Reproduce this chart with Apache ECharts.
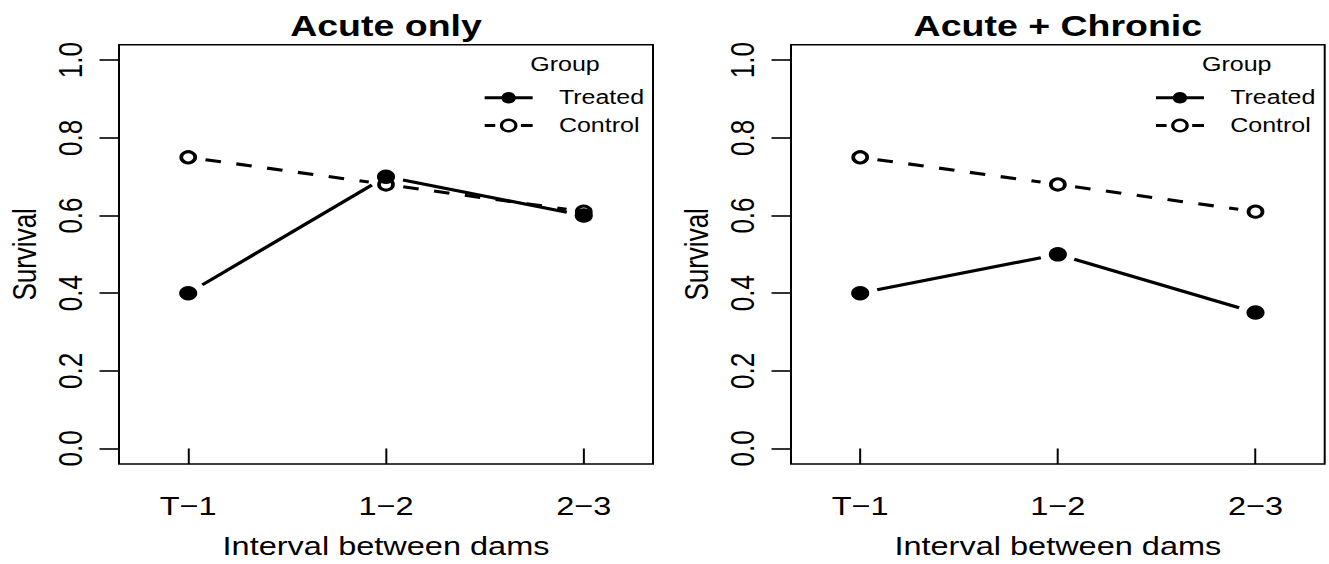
<!DOCTYPE html>
<html>
<head>
<meta charset="utf-8">
<script src="https://cdn.jsdelivr.net/npm/echarts@6/dist/echarts.min.js"></script>
<style>
html,body{margin:0;padding:0;background:#fff;overflow:hidden}
#wrap{width:1329px;height:564px;overflow:hidden;background:#fff}
#chart{width:1063px;height:564px;transform-origin:0 0}
</style>
</head>
<body>
<div id="wrap"><div id="chart"></div></div>
<script>
// ---- data ----
const categories = ['T\u22121', '1\u22122', '2\u22123'];
const xPositions = [1, 2, 3];
const yTicks = [0, 0.2, 0.4, 0.6, 0.8, 1.0];
const acuteTreated = [0.40, 0.70, 0.60];
const acuteControl = [0.75, 0.68, 0.61];
const chronicTreated = [0.40, 0.50, 0.35];
const chronicControl = [0.75, 0.68, 0.61];
const panelTitles = ['Acute only', 'Acute + Chronic'];
const groupNames = ['Treated', 'Control'];

// ---- layout (the picture is horizontally stretched) ----
const S = 1329 / 1063;
document.getElementById('chart').style.transform = 'scaleX(' + S + ')';
const px = v => v / S;
const FONT = 'Liberation Sans, Arial, Helvetica, sans-serif';
const AXIS_FS = 26;
const GRID_TOP = 44.7, GRID_H = 425;
const panels = [
  { left: px(119), width: px(653 - 119), legendX: px(482.7) },
  { left: px(791), width: px(1324.7 - 791), legendX: px(1154) }
];
const GAP = 14;
const DASH = [12.5, 12.5];
const LEGEND_DASH = [8.5, 20.5, 9.4, 100];
const LW = 3.1;

function pts(ys) { return xPositions.map((x, i) => [x, ys[i]]); }
function segs(ys) {
  const out = [];
  for (let i = 0; i < ys.length - 1; i++) out.push([xPositions[i], ys[i], xPositions[i + 1], ys[i + 1]]);
  return out;
}
function segRenderer(dash) {
  return function (params, api) {
    const a = api.coord([api.value(0), api.value(1)]);
    const b = api.coord([api.value(2), api.value(3)]);
    const dx = b[0] - a[0], dy = b[1] - a[1];
    const len = Math.sqrt(dx * dx + dy * dy);
    const ux = dx / len, uy = dy / len;
    return {
      type: 'line',
      shape: { x1: a[0] + ux * GAP, y1: a[1] + uy * GAP, x2: b[0] - ux * GAP, y2: b[1] - uy * GAP },
      style: { stroke: '#000', lineWidth: LW, lineDash: dash, lineCap: 'butt' }
    };
  };
}

const grids = [], xAxes = [], yAxes = [], series = [], legends = [], graphics = [];
const panelData = [[acuteTreated, acuteControl], [chronicTreated, chronicControl]];

panels.forEach((p, k) => {
  grids.push({ left: p.left, top: GRID_TOP, width: p.width, height: GRID_H, show: true,
    borderColor: '#000', borderWidth: 1.6, backgroundColor: 'transparent', containLabel: false });
  xAxes.push({
    type: 'value', gridIndex: k, min: 0.65, max: 3.35,
    name: 'Interval between dams', nameLocation: 'middle', nameGap: 69,
    nameTextStyle: { fontSize: AXIS_FS, fontFamily: FONT, color: '#000' },
    axisLine: { show: false },
    axisTick: { show: true, length: 15.6, customValues: xPositions, lineStyle: { color: '#000', width: 1.6 } },
    axisLabel: { show: true, customValues: xPositions, margin: 29, fontSize: AXIS_FS, fontFamily: FONT, color: '#000',
      formatter: v => categories[xPositions.indexOf(Math.round(v))] },
    splitLine: { show: false }
  });
  yAxes.push({
    type: 'value', gridIndex: k, min: -0.04, max: 1.04,
    name: 'Survival', nameLocation: 'middle', nameGap: 63,
    nameTextStyle: { fontSize: AXIS_FS, fontFamily: FONT, color: '#000' },
    axisLine: { show: false },
    axisTick: { show: true, length: 15.6, customValues: yTicks, lineStyle: { color: '#000', width: 1.6 } },
    axisLabel: { show: true, customValues: yTicks, rotate: 90, margin: 26, fontSize: AXIS_FS, fontFamily: FONT, color: '#000',
      formatter: v => v.toFixed(1) },
    splitLine: { show: false }
  });
  const [tr, ct] = panelData[k];
  series.push({
    type: 'custom', name: 'Treated segments', xAxisIndex: k, yAxisIndex: k, z: 2, silent: true,
    dimensions: ['x1', 'y1', 'x2', 'y2'], encode: { x: [0, 2], y: [1, 3] },
    renderItem: segRenderer(null), data: segs(tr)
  });
  series.push({
    type: 'line', name: groupNames[0], xAxisIndex: k, yAxisIndex: k, z: 3, silent: true,
    data: pts(tr), symbol: 'circle', symbolSize: 14.5, showSymbol: true,
    itemStyle: { color: '#000' }, lineStyle: { opacity: 0, width: 0.01 }
  });
  series.push({
    type: 'custom', name: 'Control segments', xAxisIndex: k, yAxisIndex: k, z: 4, silent: true,
    dimensions: ['x1', 'y1', 'x2', 'y2'], encode: { x: [0, 2], y: [1, 3] },
    renderItem: segRenderer(DASH), data: segs(ct)
  });
  series.push({
    type: 'line', name: groupNames[1], xAxisIndex: k, yAxisIndex: k, z: 5, silent: true,
    data: pts(ct), symbol: 'circle', symbolSize: 11.2, showSymbol: true,
    itemStyle: { color: 'rgba(0,0,0,0)', borderColor: '#000', borderWidth: 3 },
    lineStyle: { opacity: 0, width: 0.01 }
  });
  legends.push({
    orient: 'vertical', left: p.legendX, top: 87.8, padding: 0, itemWidth: px(48), itemHeight: 14.5, itemGap: 7.7,
    selectedMode: false,
    textStyle: { fontSize: 20, fontFamily: FONT, color: '#000', padding: [0, 0, 0, 16] },
    data: [
      { name: groupNames[0], itemStyle: { color: '#000', borderWidth: 0 },
        lineStyle: { color: '#000', width: LW, type: 'solid', opacity: 1 } },
      { name: groupNames[1], itemStyle: { color: 'rgba(0,0,0,0)', borderColor: '#000', borderWidth: 2.5 },
        lineStyle: { color: '#000', width: LW, type: LEGEND_DASH, opacity: 1 } }
    ]
  });
  const cx = p.left + p.width / 2;
  graphics.push({ type: 'text', x: cx, y: 25, silent: true,
    style: { text: panelTitles[k], fontSize: 30, fontWeight: 'bold', fontFamily: FONT, fill: '#000',
      align: 'center', verticalAlign: 'middle', textAlign: 'center', textVerticalAlign: 'middle' } });
  graphics.push({ type: 'text', x: p.left + p.width - px(88), y: 64.5, silent: true,
    style: { text: 'Group', fontSize: 20, fontFamily: FONT, fill: '#000',
      align: 'center', verticalAlign: 'middle', textAlign: 'center', textVerticalAlign: 'middle' } });
});

const chart = echarts.init(document.getElementById('chart'), null, { renderer: 'svg' });
chart.setOption({
  backgroundColor: '#fff',
  animation: false,
  grid: grids, xAxis: xAxes, yAxis: yAxes, series: series, legend: legends, graphic: graphics
});
</script>
</body>
</html>
